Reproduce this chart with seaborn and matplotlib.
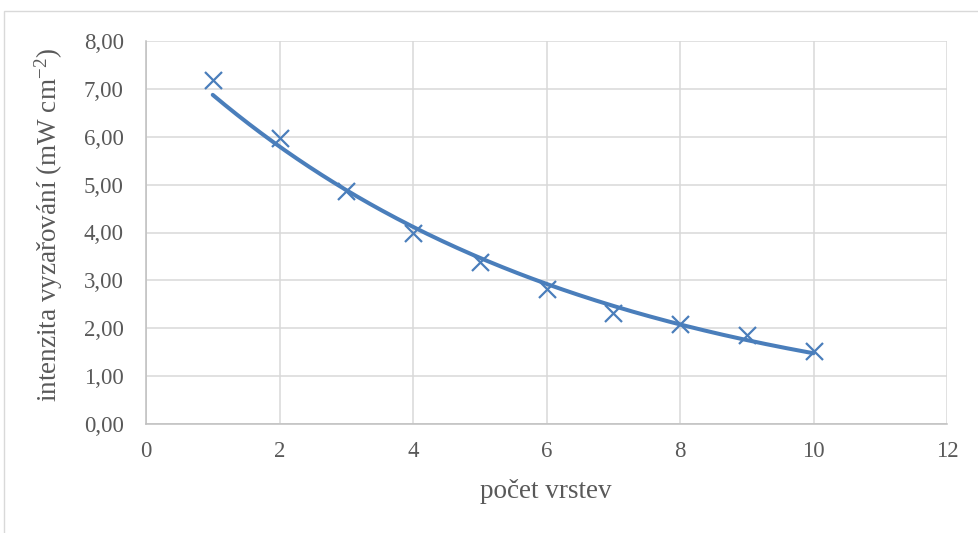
import numpy as np
import pandas as pd
import matplotlib
matplotlib.use("Agg")
import matplotlib.pyplot as plt
from matplotlib.ticker import FuncFormatter, MultipleLocator
from matplotlib.patches import Rectangle
import seaborn as sns

layers = [1, 2, 3, 4, 5, 6, 7, 8, 9, 10]
intensity = [7.19, 5.97, 4.87, 3.98, 3.38, 2.81, 2.32, 2.09, 1.86, 1.52]
x_label = "počet vrstev"
y_label = "intenzita vyzařování (mW cm$^{\\mathrm{-2}}$)"

sns.set_theme(style="white")
plt.rcParams["font.family"] = ["Liberation Serif", "DejaVu Serif"]
plt.rcParams["mathtext.fontset"] = "custom"
plt.rcParams["mathtext.rm"] = "Liberation Serif"
plt.rcParams["mathtext.it"] = "Liberation Serif:italic"

df = pd.DataFrame({"x": layers, "y": intensity})

# exponential trendline (least squares in log space, like Excel)
b, a = np.polyfit(np.array(layers, float), np.log(np.array(intensity)), 1)
xt = np.linspace(min(layers), max(layers), 200)
trend = pd.DataFrame({"x": xt, "y": np.exp(a) * np.exp(b * xt)})

W, H = 979, 533
fig = plt.figure(figsize=(W / 100, H / 100), dpi=100)
ax = fig.add_axes([146 / W, 1 - 424 / H, (947 - 146) / W, (424 - 41) / H])

color = "#4A7EBB"
sns.scatterplot(data=df, x="x", y="y", marker="x", s=150, color=color,
                linewidth=1.6, ax=ax, zorder=3)
sns.lineplot(data=trend, x="x", y="y", color=color, linewidth=2.9, ax=ax,
             zorder=4, solid_capstyle="round")

ax.set_xlim(0, 12)
ax.set_ylim(0, 8)
ax.xaxis.set_major_locator(MultipleLocator(2))
ax.yaxis.set_major_locator(MultipleLocator(1))
ax.yaxis.set_major_formatter(FuncFormatter(lambda v, p: f"{v:.2f}".replace(".", ",")))
ax.xaxis.set_major_formatter(FuncFormatter(lambda v, p: f"{int(v)}"))

ax.grid(True, color="#D9D9D9", linewidth=1.1)
ax.set_axisbelow(True)
for s in ["top", "right"]:
    ax.spines[s].set_visible(False)
ax.spines["left"].set_color("#BFBFBF")
ax.spines["bottom"].set_color("#BFBFBF")
ax.spines["left"].set_linewidth(1.1)
ax.spines["bottom"].set_linewidth(1.1)

ax.tick_params(axis="both", length=0, labelsize=16.5, colors="#595959")
ax.tick_params(axis="x", pad=12)
ax.tick_params(axis="y", pad=16)
ax.set_xlabel("")
ax.set_ylabel("")

fig.text(546 / W, 1 - 492 / H, x_label, fontsize=19.5, color="#595959",
         ha="center", va="center")
fig.text(49 / W, 1 - 225 / H, y_label, fontsize=19.5, color="#595959",
         ha="center", va="center", rotation=90)

# outer chart border
fig.patches.append(Rectangle((4 / W, -0.1), 1.2, 1 - 11 / H + 0.1,
                             transform=fig.transFigure, fill=False,
                             edgecolor="#D9D9D9", linewidth=1.0))

fig.savefig("out.png", dpi=100)
